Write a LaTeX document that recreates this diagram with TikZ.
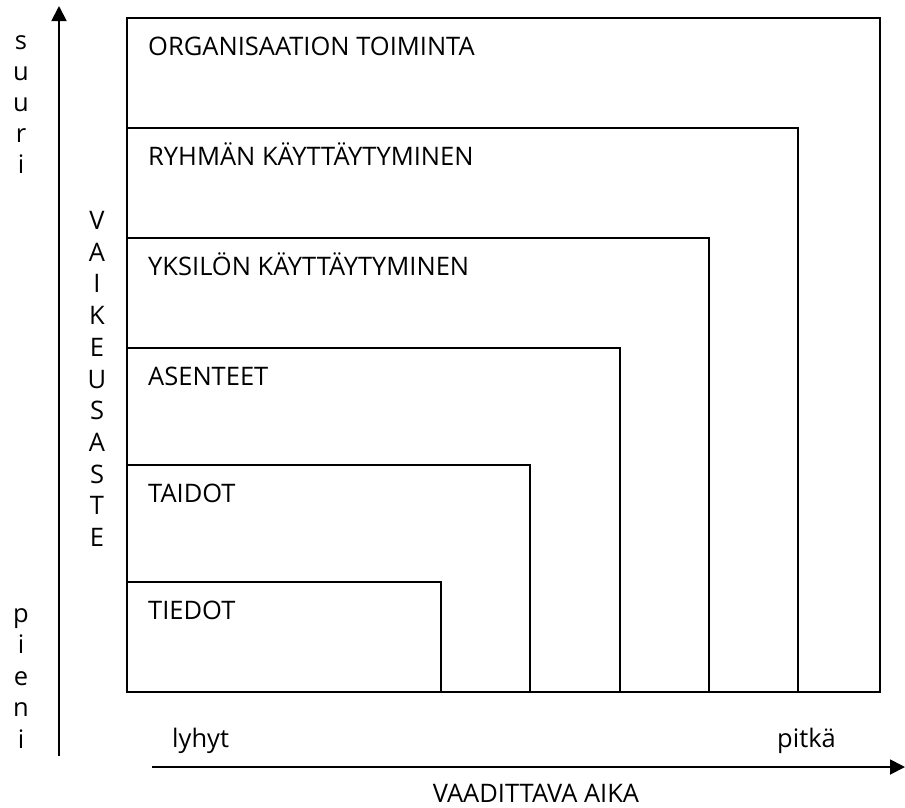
\documentclass[tikz,border=0pt]{standalone}
\usepackage{fontspec}
\setmainfont{Open Sans}
\usetikzlibrary{arrows.meta}
\begin{document}
\begin{tikzpicture}[x=1pt,y=-1pt,
  level/.style={draw, line width=1.8pt, outer sep=0pt, inner sep=0pt, anchor=south west},
  axis/.style={line width=1.8pt, -{Triangle[length=15pt,width=15pt]}},
  txt/.style={inner sep=0pt, font=\fontsize{25.5}{30}\selectfont},
  lbl/.style={txt, anchor=base west},
  letter/.style={txt, anchor=base}]
\useasboundingbox (0,0) rectangle (905,807);

% nested levels, sharing the lower left corner
\node[level, minimum width=753pt, minimum height=674pt] (org) at (127,692) {};
\node[level, minimum width=671pt, minimum height=564pt] (ryh) at (127,692) {};
\node[level, minimum width=582pt, minimum height=454pt] (yks) at (127,692) {};
\node[level, minimum width=493pt, minimum height=344pt] (ase) at (127,692) {};
\node[level, minimum width=403pt, minimum height=227pt] (tai) at (127,692) {};
\node[level, minimum width=314pt, minimum height=110pt] (tie) at (127,692) {};

\node[lbl] (org-t) at (148,55)  {ORGANISAATION TOIMINTA};
\node[lbl] (ryh-t) at (148,165) {RYHMÄN KÄYTTÄYTYMINEN};
\node[lbl] (yks-t) at (148,275) {YKSILÖN KÄYTTÄYTYMINEN};
\node[lbl] (ase-t) at (148,385) {ASENTEET};
\node[lbl] (tai-t) at (148,502) {TAIDOT};
\node[lbl] (tie-t) at (148,619) {TIEDOT};

% vertical axis
\coordinate (ytail) at (59,756);
\coordinate (ytip) at (59,6);
\draw[axis] (ytail) -- (ytip);

\foreach \ch [count=\i] in {s,u,u,r,i}
  \node[letter] (suuri-\i) at (21,{49+31*(\i-1)}) {\ch};
\foreach \ch [count=\i] in {p,i,e,n,i}
  \node[letter] (pieni-\i) at (21,{622+31.5*(\i-1)}) {\ch};
\foreach \ch [count=\i] in {V,A,I,K,E,U,S,A,S,T,E}
  \node[letter] (vaik-\i) at (97,{229.5+31.7*(\i-1)}) {\ch};

% horizontal axis
\coordinate (xtail) at (152,767);
\coordinate (xtip) at (905,767);
\draw[axis] (xtail) -- (xtip);

\node[lbl] (lyhyt) at (172,747) {lyhyt};
\node[lbl] (pitka) at (777,747) {pitkä};
\node[letter] (aika) at (536,802) {VAADITTAVA AIKA};
\end{tikzpicture}
\end{document}
